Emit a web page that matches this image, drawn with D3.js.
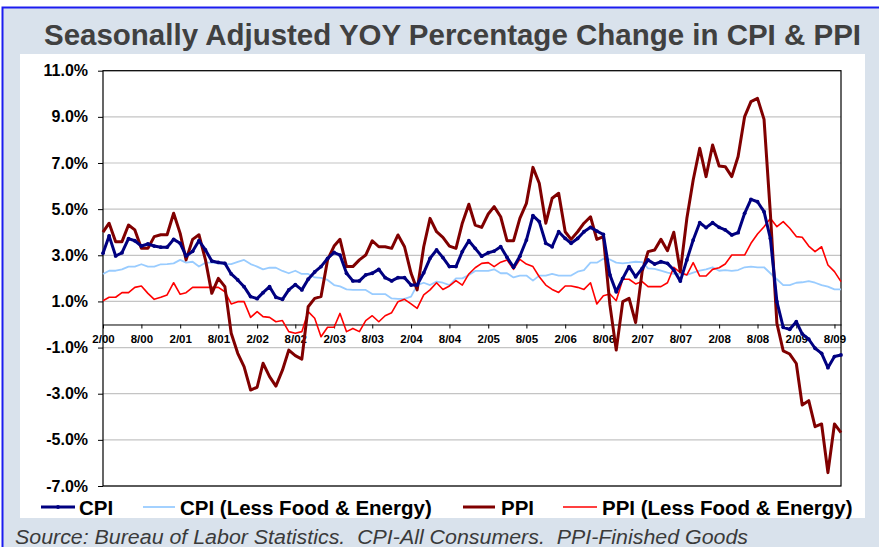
<!DOCTYPE html>
<meta charset="utf-8">
<style>
body { margin: 0; background: #fff; }
svg { display: block; font-family: "Liberation Sans", Arial, sans-serif; }
</style>
<body>
<script src="https://d3js.org/d3.v7.min.js"></script>
<script>

// monthly YOY % change, first month 2/00, last month 9/09
var startMonth = "2000-02";

var cpi = [3.09, 3.84, 2.97, 3.11, 3.72, 3.63, 3.40, 3.49, 3.40, 3.35,
  3.35, 3.69, 3.52, 2.97, 3.17, 3.63, 3.23, 2.75, 2.69, 2.65,
  2.19, 1.93, 1.64, 1.21, 1.12, 1.38, 1.64, 1.18, 1.09, 1.50,
  1.73, 1.50, 1.96, 2.28, 2.51, 2.86, 3.12, 3.01, 2.22, 1.89,
  1.89, 2.15, 2.22, 2.39, 2.03, 1.89, 2.03, 2.03, 1.71, 1.71,
  2.24, 2.87, 3.23, 2.90, 2.51, 2.51, 3.16, 3.63, 3.30, 2.96,
  3.11, 3.18, 3.37, 2.91, 2.48, 2.96, 3.66, 4.72, 4.46, 3.52,
  3.37, 4.02, 3.73, 3.52, 3.73, 4.02, 4.21, 4.05, 3.90, 2.15,
  1.42, 2.00, 2.51, 2.07, 2.43, 2.80, 2.62, 2.72, 2.65, 2.36,
  1.88, 2.80, 3.66, 4.41, 4.20, 4.41, 4.21, 4.10, 3.88, 3.98,
  4.82, 5.42, 5.32, 4.89, 3.73, 0.99, -0.12, -0.21, 0.12, -0.41,
  -0.64, -1.03, -1.25, -1.87, -1.39, -1.32];

var cpiCore = [2.19, 2.33, 2.33, 2.39, 2.51, 2.51, 2.61, 2.51, 2.51, 2.61,
  2.62, 2.65, 2.80, 2.68, 2.72, 2.51, 2.68, 2.68, 2.65, 2.62,
  2.62, 2.71, 2.80, 2.62, 2.51, 2.39, 2.46, 2.46, 2.32, 2.22,
  2.33, 2.19, 2.19, 2.04, 2.02, 1.93, 1.71, 1.65, 1.52, 1.50,
  1.50, 1.50, 1.32, 1.32, 1.32, 1.13, 1.11, 1.11, 1.21, 1.71,
  1.81, 1.71, 1.86, 1.81, 1.71, 2.00, 2.00, 2.14, 2.32, 2.32,
  2.32, 2.39, 2.22, 2.22, 2.04, 2.12, 2.12, 1.90, 2.12, 2.12,
  2.19, 2.12, 2.12, 2.12, 2.29, 2.36, 2.68, 2.68, 2.85, 2.82,
  2.68, 2.65, 2.68, 2.72, 2.70, 2.43, 2.41, 2.33, 2.25, 2.19,
  2.19, 2.15, 2.25, 2.33, 2.39, 2.48, 2.33, 2.36, 2.32, 2.36,
  2.48, 2.51, 2.48, 2.48, 2.22, 1.96, 1.71, 1.71, 1.81, 1.83,
  1.88, 1.81, 1.71, 1.64, 1.52, 1.52];

var ppi = [4.00, 4.39, 3.59, 3.59, 4.31, 4.10, 3.30, 3.30, 3.81, 3.89,
  3.89, 4.82, 3.95, 2.80, 3.69, 3.89, 2.80, 1.35, 2.00, 1.64,
  -0.38, -1.25, -1.83, -2.84, -2.72, -1.68, -2.26, -2.67, -1.98, -1.11,
  -1.35, -1.50, 0.77, 1.13, 1.21, 2.80, 3.40, 3.69, 2.51, 2.51,
  2.80, 3.01, 3.63, 3.37, 3.37, 3.30, 3.88, 3.37, 2.22, 1.50,
  3.37, 4.60, 4.02, 3.78, 3.40, 3.30, 4.39, 5.21, 4.31, 4.21,
  4.79, 5.11, 4.67, 3.63, 3.63, 4.60, 5.25, 6.81, 6.12, 4.39,
  5.47, 5.69, 4.02, 3.69, 4.02, 4.39, 4.67, 3.69, 3.81, 0.85,
  -1.11, 0.99, 1.13, 0.08, 2.30, 3.16, 3.23, 3.69, 3.20, 4.00,
  2.29, 4.60, 6.26, 7.64, 6.41, 7.78, 6.87, 6.84, 6.41, 7.28,
  9.01, 9.66, 9.80, 8.89, 4.82, 0.05, -1.14, -1.28, -1.69, -3.49,
  -3.30, -4.43, -4.31, -6.42, -4.31, -4.69];

var ppiCore = [1.03, 1.18, 1.18, 1.38, 1.38, 1.61, 1.67, 1.35, 1.09, 1.18,
  1.28, 1.81, 1.31, 1.38, 1.61, 1.61, 1.61, 1.61, 1.61, 1.42,
  0.89, 0.99, 0.99, 0.31, 0.56, 0.34, 0.31, 0.12, 0.17, -0.31,
  -0.38, -0.31, 0.56, 0.27, -0.53, -0.12, -0.12, 0.48, -0.31, -0.17,
  -0.31, 0.17, 0.38, 0.12, 0.38, 0.51, 0.99, 1.09, 0.89, 0.70,
  1.28, 1.50, 1.81, 1.52, 1.67, 1.90, 1.71, 2.19, 2.46, 2.65,
  2.68, 2.51, 2.70, 2.80, 2.39, 2.82, 2.62, 2.51, 2.07, 1.71,
  1.52, 1.39, 1.67, 1.67, 1.61, 1.52, 1.81, 0.89, 1.25, 1.32,
  1.03, 1.96, 1.96, 1.76, 1.86, 1.64, 1.64, 1.64, 1.81, 2.48,
  2.25, 2.15, 2.68, 2.10, 2.10, 2.39, 2.46, 2.62, 3.01, 3.01,
  3.01, 3.52, 3.92, 4.24, 4.60, 4.24, 4.46, 4.17, 3.81, 3.78,
  3.40, 3.16, 3.37, 2.58, 2.29, 1.86];

var yTicks = [-7, -5, -3, -1, 1, 3, 5, 7, 9, 11];
var xTickLabels = ["2/00", "8/00", "2/01", "8/01", "2/02", "8/02", "2/03", "8/03",
  "2/04", "8/04", "2/05", "8/05", "2/06", "8/06", "2/07", "8/07",
  "2/08", "8/08", "2/09", "8/09"];

var legendNames = ["CPI", "CPI (Less Food & Energy)", "PPI", "PPI (Less Food & Energy)"];

var W = 879, H = 547;
var plot = {left: 103, right: 841, top: 70.7, bottom: 486};

var svg = d3.select("body").append("svg")
    .attr("width", W)
    .attr("height", H);

// outer frame and white chart panel
svg.append("rect")
    .attr("x", 2.5).attr("y", 7.5)
    .attr("width", W + 20).attr("height", H + 20)
    .attr("fill", "#d9e2ec")
    .attr("stroke", "#1c1cf0")
    .attr("stroke-width", 2);

svg.append("rect")
    .attr("x", 20).attr("y", 54)
    .attr("width", 845).attr("height", 464)
    .attr("fill", "#fff");

// title
svg.append("text")
    .attr("x", 44).attr("y", 45)
    .attr("textLength", 817)
    .attr("lengthAdjust", "spacingAndGlyphs")
    .style("font-size", "29px")
    .style("font-weight", "bold")
    .style("fill", "#404040")
    .text("Seasonally Adjusted YOY Percentage Change in CPI & PPI");

// scales
var start = d3.timeParse("%Y-%m")(startMonth);
var months = cpi.map(function(d, i) { return d3.timeMonth.offset(start, i); });

var x = d3.scaleTime()
    .domain([months[0], months[months.length - 1]])
    .range([plot.left, plot.right]);
var y = d3.scaleLinear()
    .domain([-7, 11])
    .range([plot.bottom, plot.top]);

var parseTick = d3.timeParse("%m/%y");
var xTickDates = xTickLabels.map(function(s) { return parseTick(s); });

// gridlines
svg.append("g").selectAll("line")
    .data(yTicks)
  .enter().append("line")
    .attr("x1", plot.left).attr("x2", plot.right)
    .attr("y1", function(d) { return y(d); })
    .attr("y2", function(d) { return y(d); })
    .attr("stroke", "#c4c4c4")
    .attr("stroke-width", 1.2);

// y axis
var yAxis = svg.append("g")
    .attr("transform", "translate(" + plot.left + ",0)")
    .call(d3.axisLeft(y).tickValues(yTicks)
      .tickFormat(function(d) { return d.toFixed(1) + "%"; })
      .tickSize(5).tickPadding(10));
yAxis.select(".domain").remove();
yAxis.selectAll("line").attr("stroke", "#000");
yAxis.selectAll("text")
    .style("font-size", "16px")
    .style("font-weight", "bold")
    .style("font-family", "Liberation Sans, Arial, sans-serif")
    .attr("fill", "#000");

// x axis along 0%
var xAxis = svg.append("g")
    .attr("transform", "translate(0," + y(0) + ")")
    .call(d3.axisBottom(x).tickValues(xTickDates)
      .tickFormat(function(d, i) { return xTickLabels[i]; })
      .tickSize(4).tickSizeOuter(0).tickPadding(6));
xAxis.select(".domain").attr("stroke", "#000");
xAxis.selectAll("line").attr("stroke", "#000");
xAxis.selectAll("text")
    .style("font-size", "11.5px")
    .style("font-weight", "bold")
    .style("font-family", "Liberation Sans, Arial, sans-serif")
    .attr("fill", "#000");

// plot frame
svg.append("rect")
    .attr("x", plot.left).attr("y", plot.top)
    .attr("width", plot.right - plot.left)
    .attr("height", plot.bottom - plot.top)
    .attr("fill", "none")
    .attr("stroke", "#000")
    .attr("stroke-width", 1.2);

// series
var line = d3.line()
    .x(function(d, i) { return x(months[i]); })
    .y(function(d) { return y(d); });

var series = [
  {values: cpiCore, color: "#99ccff", width: 1.8},
  {values: ppiCore, color: "#ff0000", width: 1.6},
  {values: ppi, color: "#800000", width: 3},
  {values: cpi, color: "#000080", width: 3}
];

svg.append("g").selectAll("path")
    .data(series)
  .enter().append("path")
    .attr("d", function(s) { return line(s.values); })
    .attr("fill", "none")
    .attr("stroke", function(s) { return s.color; })
    .attr("stroke-width", function(s) { return s.width; })
    .attr("stroke-linejoin", "round");

// small markers on CPI
svg.append("g").selectAll("circle")
    .data(cpi)
  .enter().append("circle")
    .attr("cx", function(d, i) { return x(months[i]); })
    .attr("cy", function(d) { return y(d); })
    .attr("r", 1.9)
    .attr("fill", "#000080");

// legend
var legendItems = [
  {name: legendNames[0], color: "#000080", width: 3, x0: 41, x1: 75, tx: 79, marker: true},
  {name: legendNames[1], color: "#99ccff", width: 1.8, x0: 143, x1: 175, tx: 180},
  {name: legendNames[2], color: "#800000", width: 3, x0: 463, x1: 495, tx: 501},
  {name: legendNames[3], color: "#ff0000", width: 1.6, x0: 563, x1: 597, tx: 602}
];
var ly = 507;
var legend = svg.append("g");
legendItems.forEach(function(it) {
  legend.append("line")
      .attr("x1", it.x0).attr("x2", it.x1)
      .attr("y1", ly).attr("y2", ly)
      .attr("stroke", it.color)
      .attr("stroke-width", it.width);
  if (it.marker) {
    legend.append("circle")
        .attr("cx", (it.x0 + it.x1) / 2).attr("cy", ly)
        .attr("r", 1.9).attr("fill", it.color);
  }
  legend.append("text")
      .attr("x", it.tx).attr("y", ly + 7.5)
      .style("font-size", "20.5px")
      .style("font-weight", "bold")
      .style("fill", "#000")
      .text(it.name);
});

// source note
svg.append("text")
    .attr("x", 15).attr("y", 544)
    .attr("textLength", 733)
    .attr("lengthAdjust", "spacingAndGlyphs")
    .style("font-size", "20px")
    .style("font-style", "italic")
    .style("fill", "#3a3a3a")
    .style("white-space", "pre")
    .text("Source: Bureau of Labor Statistics.  CPI-All Consumers.  PPI-Finished Goods");

</script>
</body>
